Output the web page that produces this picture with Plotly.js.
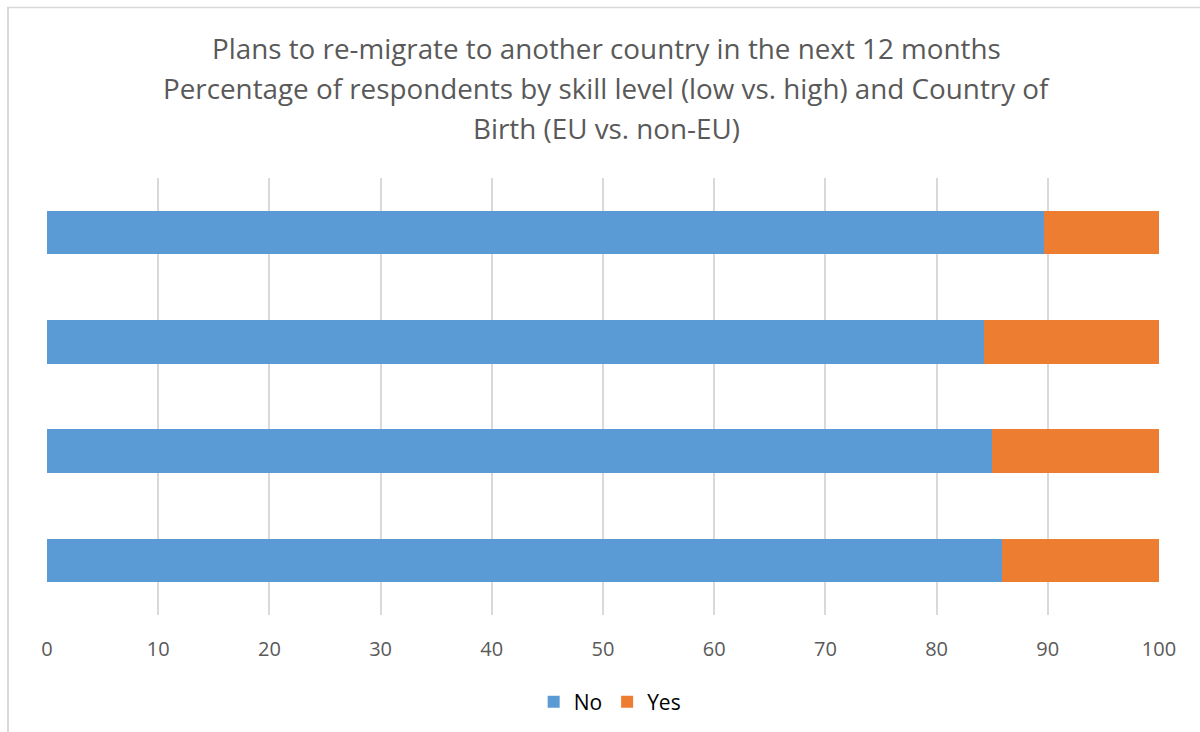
<!DOCTYPE html>
<html>
<head>
<meta charset="utf-8">
<script src="https://cdn.plot.ly/plotly-3.0.1.min.js"></script>
<style>html,body{margin:0;padding:0;background:#fff;}#chart{width:1200px;height:732px;}</style>
</head>
<body>
<div id="chart"></div>
<script>
// Data (categories are not labelled in the reference; listed top to bottom)
const categories = ["Group 1", "Group 2", "Group 3", "Group 4"];
const noValues = [89.7, 84.3, 85.0, 85.9];
const yesValues = [10.3, 15.7, 15.0, 14.1];
const seriesNames = ["No", "Yes"];
const xTicks = [0, 10, 20, 30, 40, 50, 60, 70, 80, 90, 100];
const titleLines = [
  "Plans to re-migrate to another country in the next 12 months",
  "Percentage of respondents by skill level (low vs. high) and Country of",
  "Birth (EU vs. non-EU)"
];

const font = "Open Sans, Noto Sans, sans-serif";
const grey = "#595959";

const traces = [
  {type: "bar", orientation: "h", name: seriesNames[0], y: categories, x: noValues,
   marker: {color: "#5b9bd5", line: {color: "#ffffff", width: 0}}, hoverinfo: "x+name"},
  {type: "bar", orientation: "h", name: seriesNames[1], y: categories, x: yesValues,
   marker: {color: "#ed7d31", line: {color: "#ffffff", width: 0}}, hoverinfo: "x+name"}
];

const plotTop = 178, plotBottom = 615, plotH = plotBottom - plotTop;
const pyToPaper = py => (plotBottom - py) / plotH;
const titleY = [48, 88, 128];

const annotations = titleLines.map((t, i) => ({
  text: t, xref: "paper", yref: "paper", x: 0.503, y: pyToPaper(titleY[i]),
  xanchor: "center", yanchor: "middle", showarrow: false,
  font: {family: font, size: 27.8, color: grey}
}));

const plotL = 47, plotR = 1159, plotW = plotR - plotL;
const pxToPaperX = px => (px - plotL) / plotW;

const layout = {
  width: 1200, height: 732,
  margin: {l: plotL, r: 1200 - plotR, t: plotTop, b: 732 - plotBottom, pad: 0, autoexpand: false},
  paper_bgcolor: "#ffffff", plot_bgcolor: "#ffffff",
  barmode: "stack", bargap: 0.6,
  showlegend: true,
  legend: {orientation: "h", x: 0.506, xanchor: "center", y: pyToPaper(702), yanchor: "middle",
           font: {family: font, size: 21, color: "#000000"}, itemwidth: 30, traceorder: "normal"},
  xaxis: {range: [0, 100], tickvals: xTicks, ticktext: xTicks.map(String),
          showgrid: true, gridcolor: "#d9d9d9", gridwidth: 1.5, zeroline: false,
          showline: false, ticks: "", ticklabelstandoff: 20, automargin: false,
          tickfont: {family: font, size: 20, color: grey}, fixedrange: true},
  yaxis: {type: "category", autorange: "reversed", showticklabels: false, showgrid: false,
          zeroline: false, showline: false, ticks: "", fixedrange: true, automargin: false},
  annotations: annotations,
  shapes: [
    {type: "line", xref: "paper", yref: "paper", x0: pxToPaperX(8), x1: pxToPaperX(8),
     y0: pyToPaper(7), y1: pyToPaper(740), line: {color: "#d9d9d9", width: 2}},
    {type: "line", xref: "paper", yref: "paper", x0: pxToPaperX(7), x1: pxToPaperX(1210),
     y0: pyToPaper(7.5), y1: pyToPaper(7.5), line: {color: "#d9d9d9", width: 1.5}}
  ]
};

Plotly.newPlot("chart", traces, layout, {displayModeBar: false, staticPlot: false});
</script>
</body>
</html>
